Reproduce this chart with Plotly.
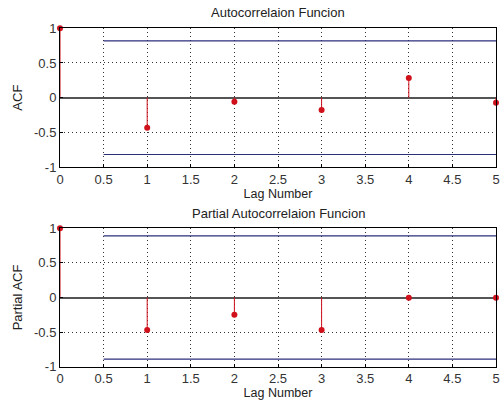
import plotly.graph_objects as go

lags = [0, 1, 2, 3, 4, 5]
acf_vals = [1.0, -0.433, -0.058, -0.178, 0.283, -0.073]
pacf_vals = [1.0, -0.47, -0.249, -0.47, -0.005, -0.005]
acf_bound = 0.82
pacf_bound = 0.89
bound_x = [0.5, 5]
x_ticks = [0, 0.5, 1, 1.5, 2, 2.5, 3, 3.5, 4, 4.5, 5]
x_tick_labels = ["0", "0.5", "1", "1.5", "2", "2.5", "3", "3.5", "4", "4.5", "5"]
y_ticks = [-1, -0.5, 0, 0.5, 1]
y_tick_labels = ["-1", "-0.5", "0", "0.5", "1"]
titles = ["Autocorrelaion Funcion", "Partial Autocorrelaion Funcion"]
y_titles = ["ACF", "Partial ACF"]

RED = "#d0101a"
BLUE = "#2b2f7a"
FONT = "Liberation Sans, Arial, sans-serif"
H = 407

fig = go.Figure()

def add_panel(vals, bound, xa, ya):
    sx, sy = [], []
    for l, v in zip(lags, vals):
        sx += [l, l, None]
        sy += [0, v, None]
    fig.add_trace(go.Scatter(x=sx, y=sy, mode="lines", line=dict(color=RED, width=1),
                             xaxis=xa, yaxis=ya, showlegend=False, hoverinfo="skip"))
    fig.add_trace(go.Scatter(x=lags, y=vals, mode="markers",
                             marker=dict(color=RED, size=6, line=dict(width=0)),
                             xaxis=xa, yaxis=ya, showlegend=False, cliponaxis=False))
    for b in (bound, -bound):
        fig.add_trace(go.Scatter(x=bound_x, y=[b, b], mode="lines",
                                 line=dict(color=BLUE, width=1.2),
                                 xaxis=xa, yaxis=ya, showlegend=False))

add_panel(acf_vals, acf_bound, "x", "y")
add_panel(pacf_vals, pacf_bound, "x2", "y2")

doms = [[1 - 167 / H, 1 - 28.3 / H], [1 - 366.7 / H, 1 - 228.3 / H]]
axis_common = dict(showline=True, linecolor="black", linewidth=1, mirror=True,
                   showgrid=True, gridcolor="#333333", griddash="1px,3px", gridwidth=1,
                   ticks="inside", ticklen=3, tickcolor="black", automargin=False,
                   tickfont=dict(family=FONT, size=13, color="#333333"))

for i, (xa, ya) in enumerate([("xaxis", "yaxis"), ("xaxis2", "yaxis2")]):
    xanchor = "y" if i == 0 else "y2"
    yanchor = "x" if i == 0 else "x2"
    fig.layout[xa] = dict(axis_common, range=[0, 5], tickvals=x_ticks, ticktext=x_tick_labels,
                          anchor=xanchor, domain=[0, 1], zeroline=False,
                          title=dict(text="Lag Number", standoff=2,
                                     font=dict(family=FONT, size=12.5, color="#222222")))
    fig.layout[ya] = dict(axis_common, range=[-1, 1], tickvals=y_ticks, ticktext=y_tick_labels,
                          anchor=yanchor, domain=doms[i], zeroline=True,
                          zerolinecolor="#555555", zerolinewidth=1.5,
                          title=dict(text=y_titles[i], standoff=8,
                                     font=dict(family=FONT, size=13, color="#222222")))

fig.add_annotation(text=titles[0], x=0.5, xref="paper", y=1 - 13 / H, yref="paper",
                   yanchor="middle", showarrow=False,
                   font=dict(family=FONT, size=13, color="#222222"))
fig.add_annotation(text=titles[1], x=0.5, xref="paper", y=1 - 213 / H, yref="paper",
                   yanchor="middle", showarrow=False,
                   font=dict(family=FONT, size=13, color="#222222"))

fig.update_layout(width=500, height=H, margin=dict(l=60, r=4, t=0, b=0, autoexpand=False),
                  paper_bgcolor="white", plot_bgcolor="white",
                  font=dict(family=FONT))

fig.write_html("out.html")
